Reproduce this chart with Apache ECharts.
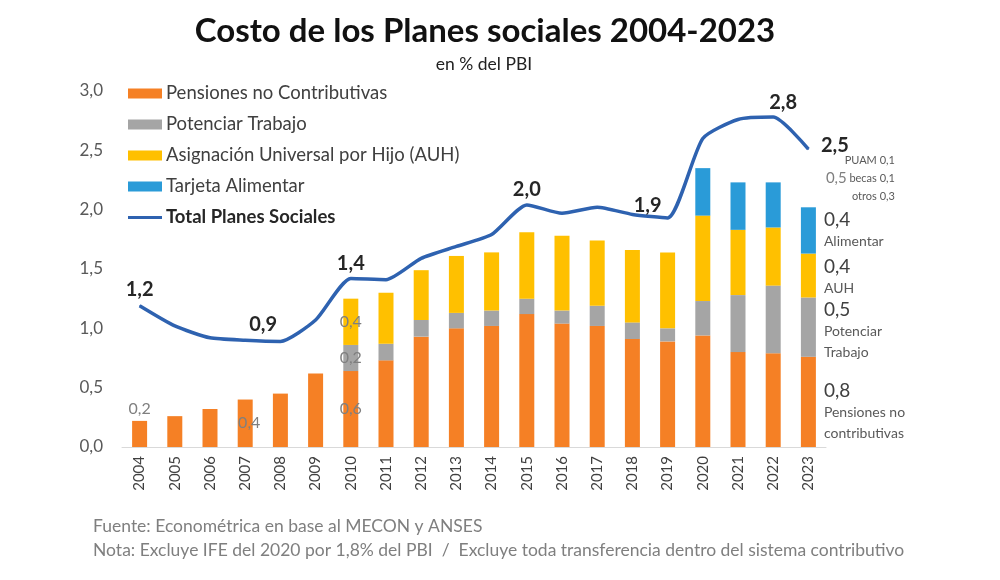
<!DOCTYPE html>
<html>
<head>
<meta charset="utf-8">
<script src="https://cdn.jsdelivr.net/npm/echarts@6/dist/echarts.min.js"></script>
<style>
  html, body { margin: 0; padding: 0; background: #fff; }
  #chart { width: 1000px; height: 580px; }
</style>
</head>
<body>
<div id="chart"></div>
<script>
var years = ['2004', '2005', '2006', '2007', '2008', '2009', '2010', '2011', '2012', '2013',
             '2014', '2015', '2016', '2017', '2018', '2019', '2020', '2021', '2022', '2023'];

// segmentos apilados, en % del PBI
var pensiones = [0.22, 0.26, 0.32, 0.40, 0.45, 0.62, 0.64, 0.73, 0.93, 1.00,
                 1.02, 1.12, 1.04, 1.02, 0.91, 0.89, 0.94, 0.80, 0.79, 0.76];
var potenciar = ['-', '-', '-', '-', '-', '-', 0.22, 0.14, 0.14, 0.13,
                 0.13, 0.13, 0.11, 0.17, 0.14, 0.11, 0.29, 0.48, 0.57, 0.50];
var auh = ['-', '-', '-', '-', '-', '-', 0.39, 0.43, 0.42, 0.48,
           0.49, 0.56, 0.63, 0.55, 0.61, 0.64, 0.72, 0.55, 0.49, 0.37];
var alimentar = ['-', '-', '-', '-', '-', '-', '-', '-', '-', '-',
                 '-', '-', '-', '-', '-', '-', 0.40, 0.40, 0.38, 0.39];
// PUAM + becas + otros (solo 2023, sin barra visible)
var otros = ['-', '-', '-', '-', '-', '-', '-', '-', '-', '-',
             '-', '-', '-', '-', '-', '-', '-', '-', '-', 0.49];
var total = [1.19, 1.02, 0.92, 0.90, 0.89, 1.07, 1.42, 1.41, 1.59, 1.69,
             1.79, 2.04, 1.97, 2.02, 1.96, 1.93, 2.60, 2.76, 2.78, 2.51];

var yTicks = [0, 0.5, 1, 1.5, 2, 2.5, 3];

var colPens = '#F58025';
var colPot = '#A5A5A5';
var colAuh = '#FFC000';
var colAlim = '#2A9BD8';
var colTotal = '#2E62B0';

function coma(v) {
    return (Math.round(v * 10) / 10).toFixed(1).replace('.', ',');
}

var fontMain = 'Lato, "Open Sans", sans-serif';

// etiquetas grises dentro de algunas barras
var innerLabel = { show: true, color: '#7F7F7F', fontSize: 16, fontFamily: fontMain,
                   formatter: function (p) { return coma(p.value); } };

function withLabels(arr, labels) {
    return arr.map(function (v, i) {
        if (labels[i]) return { value: v, label: labels[i] };
        return v;
    });
}

// texto a la derecha de la barra 2023
function sideLabel(lines, dy) {
    return {
        show: true, position: 'right', distance: 8, offset: [0, dy || 0],
        fontFamily: fontMain, align: 'left', lineHeight: 21,
        formatter: function (p) {
            var s = '{v|' + coma(p.value) + '}';
            lines.forEach(function (l) { s += '\n{d|' + l + '}'; });
            return s;
        },
        rich: {
            v: { fontSize: 19, color: '#404040', lineHeight: 22, fontFamily: fontMain },
            d: { fontSize: 14, color: '#595959', lineHeight: 21, fontFamily: fontMain }
        }
    };
}

var pensLabels = {};
pensLabels[0] = Object.assign({}, innerLabel, { position: 'top', distance: 4 });
pensLabels[3] = Object.assign({}, innerLabel, { position: 'inside', offset: [4, 0] });
pensLabels[6] = Object.assign({}, innerLabel, { position: 'inside' });
pensLabels[19] = sideLabel(['Pensiones no', 'contributivas'], 10);

var potLabels = {};
potLabels[6] = Object.assign({}, innerLabel, { position: 'inside' });
potLabels[19] = sideLabel(['Potenciar', 'Trabajo'], 4);

var auhLabels = {};
auhLabels[6] = Object.assign({}, innerLabel, { position: 'inside' });
auhLabels[19] = sideLabel(['AUH'], 2);

var alimLabels = {};
alimLabels[19] = sideLabel(['Alimentar'], 0);

var otrosLabels = {};
otrosLabels[19] = {
    show: true, position: 'right', distance: 10, fontFamily: fontMain,
    formatter: function (p) {
        return '{e| }{s|PUAM 0,1}\n{v|' + coma(p.value) + '}{s|becas 0,1}\n{e| }{s|otros 0,3}';
    },
    rich: {
        e: { width: 25, fontSize: 11 },
        v: { width: 25, fontSize: 15, color: '#7F7F7F', fontFamily: fontMain },
        s: { width: 44, align: 'right', fontSize: 11, color: '#595959', lineHeight: 18, fontFamily: fontMain }
    }
};

// etiquetas de la línea total
var lineLab = { show: true, color: '#262626', fontSize: 20, fontWeight: 'bold', fontFamily: fontMain,
                formatter: function (p) { return coma(p.value); } };
var totalLabels = {};
totalLabels[0] = Object.assign({}, lineLab, { position: 'top', distance: 6 });
totalLabels[3] = Object.assign({}, lineLab, { position: 'top', distance: 5, offset: [18, 0] });
totalLabels[6] = Object.assign({}, lineLab, { position: 'top', distance: 4 });
totalLabels[11] = Object.assign({}, lineLab, { position: 'top', distance: 5 });
totalLabels[15] = Object.assign({}, lineLab, { position: 'top', distance: 2, offset: [-20, 0] });
totalLabels[18] = Object.assign({}, lineLab, { position: 'top', distance: 4, offset: [10, 0] });
totalLabels[19] = Object.assign({}, lineLab, { position: 'right', distance: 12, offset: [0, -4] });

var myChart = echarts.init(document.getElementById('chart'));

var option = {
    backgroundColor: '#fff',
    animation: false,
    title: [
        {
            text: 'Costo de los Planes sociales 2004-2023',
            left: 480, top: 10, textAlign: 'center',
            textStyle: { fontSize: 33, fontWeight: 'bold', color: '#111', fontFamily: fontMain }
        },
        {
            text: 'en % del PBI',
            left: 479, top: 50, textAlign: 'center',
            textStyle: { fontSize: 17.5, fontWeight: 'normal', color: '#222', fontFamily: fontMain }
        },
        {
            text: 'Fuente: Econométrica en base al MECON y ANSES\nNota: Excluye IFE del 2020 por 1,8% del PBI  /  Excluye toda transferencia dentro del sistema contributivo',
            left: 88, top: 509,
            textStyle: { fontSize: 17.5, fontWeight: 'normal', color: '#7F7F7F', lineHeight: 24, fontFamily: fontMain }
        }
    ],
    legend: {
        orient: 'vertical',
        left: 128, top: 84, padding: 0,
        itemWidth: 34, itemHeight: 10, itemGap: 12,
        textStyle: { fontSize: 18.5, color: '#404040', fontFamily: fontMain, padding: [0, 0, 0, -1] },
        data: [
            { name: 'Pensiones no Contributivas', icon: 'rect' },
            { name: 'Potenciar Trabajo', icon: 'rect' },
            { name: 'Asignación Universal por Hijo (AUH)', icon: 'rect' },
            { name: 'Tarjeta Alimentar', icon: 'rect' },
            { name: 'Total Planes Sociales', icon: 'path://M0,0H34V3H0Z',
              textStyle: { fontWeight: 'bold', color: '#262626' } }
        ]
    },
    grid: { left: 122, right: 174, top: 91, bottom: 133 },
    xAxis: {
        type: 'category',
        data: years,
        axisLine: { lineStyle: { color: '#D9D9D9', width: 1 } },
        axisTick: { show: false },
        axisLabel: { rotate: 90, fontSize: 15, color: '#404040', margin: 9, fontFamily: fontMain }
    },
    yAxis: {
        type: 'value',
        min: 0, max: 3, interval: 0.5,
        axisLine: { show: false },
        axisTick: { show: false },
        splitLine: { show: false },
        axisLabel: {
            fontSize: 17, color: '#595959', margin: 19, fontFamily: fontMain,
            formatter: function (v) { return yTicks.indexOf(v) >= 0 ? coma(v) : ''; }
        }
    },
    series: [
        {
            name: 'Pensiones no Contributivas', type: 'bar', stack: 'p', barWidth: 15,
            itemStyle: { color: colPens },
            data: withLabels(pensiones, pensLabels)
        },
        {
            name: 'Potenciar Trabajo', type: 'bar', stack: 'p',
            itemStyle: { color: colPot },
            data: withLabels(potenciar, potLabels)
        },
        {
            name: 'Asignación Universal por Hijo (AUH)', type: 'bar', stack: 'p',
            itemStyle: { color: colAuh },
            data: withLabels(auh, auhLabels)
        },
        {
            name: 'Tarjeta Alimentar', type: 'bar', stack: 'p',
            itemStyle: { color: colAlim },
            data: withLabels(alimentar, alimLabels)
        },
        {
            name: 'Otros', type: 'bar', stack: 'p',
            itemStyle: { color: 'rgba(0,0,0,0)' },
            data: withLabels(otros, otrosLabels)
        },
        {
            name: 'Total Planes Sociales', type: 'line', smooth: 0.2,
            symbol: 'circle', symbolSize: 1, showSymbol: true,
            itemStyle: { color: colTotal },
            lineStyle: { color: colTotal, width: 3.5 },
            z: 5,
            data: withLabels(total, totalLabels)
        }
    ]
};

myChart.setOption(option, true);
</script>
</body>
</html>
